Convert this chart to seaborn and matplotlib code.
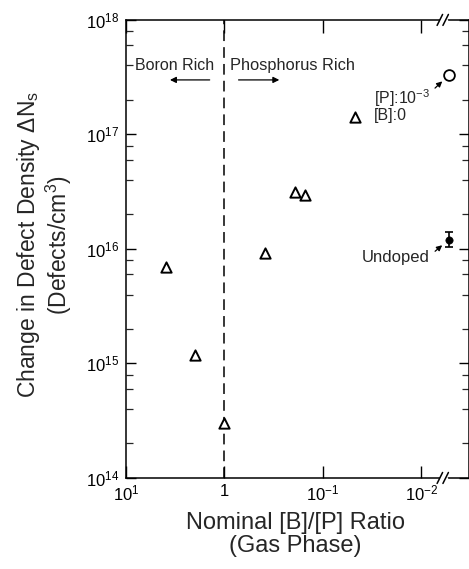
import matplotlib
matplotlib.use("Agg")
import matplotlib.pyplot as plt
import pandas as pd
import numpy as np
import seaborn as sns
from matplotlib.ticker import LogLocator, FixedLocator, FixedFormatter, NullLocator, NullFormatter

# Triangles: B/P doped films
ratio = [3.9, 1.98, 1.0, 0.39, 0.193, 0.153, 0.047]
delta_ns = [7.0e15, 1.19e15, 3.0e14, 9.2e15, 3.15e16, 2.96e16, 1.42e17]

# points plotted past the axis break (ratio undefined)
break_x = [0.0052]
p_only_y = [3.3e17]
undoped_y = [1.2e16]
undoped_lo = [1.04e16]
undoped_hi = [1.41e16]

xtick_vals = [10, 1, 0.1, 0.01]
xtick_labels = ["$10^{1}$", "1", "$10^{-1}$", "$10^{-2}$"]
ytick_vals = [1e14, 1e15, 1e16, 1e17, 1e18]
ytick_labels = ["$10^{14}$", "$10^{15}$", "$10^{16}$", "$10^{17}$", "$10^{18}$"]

sns.set_style("ticks")
plt.rcParams['font.family'] = ['Liberation Sans', 'DejaVu Sans']
plt.rcParams['mathtext.fontset'] = 'custom'
plt.rcParams['mathtext.rm'] = 'Liberation Sans'
plt.rcParams['mathtext.it'] = 'Liberation Sans:italic'
plt.rcParams['mathtext.bf'] = 'Liberation Sans:bold'

fig = plt.figure(figsize=(4.69, 5.69), dpi=100)
ax = fig.add_axes([0.2687, 0.16, 0.7313, 0.805])

df = pd.DataFrame({"ratio": ratio, "dns": delta_ns})
sns.scatterplot(data=df, x="ratio", y="dns", marker="^", s=55,
                facecolor="white", edgecolor="black", linewidth=1.4, ax=ax, zorder=3)
sns.scatterplot(x=break_x, y=p_only_y, marker="o", s=60,
                facecolor="white", edgecolor="black", linewidth=1.3, ax=ax, zorder=3)
sns.scatterplot(x=break_x, y=undoped_y, marker="o", s=28,
                color="black", edgecolor="black", ax=ax, zorder=3)
ax.errorbar(break_x, undoped_y,
            yerr=[[undoped_y[0] - undoped_lo[0]], [undoped_hi[0] - undoped_y[0]]],
            fmt="none", ecolor="black", elinewidth=1.2, capsize=3, capthick=1.2)

ax.set_xscale("log")
ax.set_yscale("log")
ax.set_xlim(10, 10 ** (1 - 343 / 98.4))
ax.set_ylim(1e14, 1e18)

ax.axvline(1, color="black", lw=1.1, ls=(0, (7, 4)), zorder=1)

ax.xaxis.set_major_locator(FixedLocator(xtick_vals))
ax.xaxis.set_major_formatter(FixedFormatter(xtick_labels))
ax.xaxis.set_minor_locator(NullLocator())
ax.yaxis.set_major_locator(FixedLocator(ytick_vals))
ax.yaxis.set_major_formatter(FixedFormatter(ytick_labels))
ax.yaxis.set_minor_locator(LogLocator(base=10, subs=(2, 4, 6, 8), numticks=20))
ax.yaxis.set_minor_formatter(NullFormatter())

ax.tick_params(axis="x", which="major", direction="in", length=9, width=1.0,
               top=True, bottom=True, labelsize=12, pad=4, colors="black")
ax.tick_params(axis="y", which="major", direction="in", length=7, width=1.0,
               left=True, right=True, labelsize=12, pad=5, colors="black")
ax.tick_params(axis="y", which="minor", direction="in", length=5, width=0.9,
               left=True, right=True)
for s in ax.spines.values():
    s.set_color("black")
    s.set_linewidth(1.1)

ax.set_xlabel("")
ax.set_ylabel("")
fig.text(0.629, 0.06, "Nominal [B]/[P] Ratio\n(Gas Phase)", ha="center", va="center",
         fontsize=17, linespacing=1.05)
fig.text(0.095, 0.57, "Change in Defect Density \u0394N$_\\mathrm{s}$\n(Defects/cm$^3$)",
         ha="center", va="center", rotation=90, fontsize=16.5, linespacing=1.1)

# axis break marks
for fy in (0.0, 1.0):
    ax.plot([0.917, 0.932], [fy, fy], transform=ax.transAxes, color="white",
            lw=2.5, clip_on=False, zorder=5)
    for fx in (0.915, 0.932):
        ax.plot([fx - 0.008, fx + 0.008], [fy - 0.012, fy + 0.012], transform=ax.transAxes,
                color="black", lw=1.1, clip_on=False, zorder=6)

# region labels
ax.text(0.026, 0.9, "Boron Rich", transform=ax.transAxes, ha="left", va="center", fontsize=11.5)
ax.text(0.304, 0.9, "Phosphorus Rich", transform=ax.transAxes, ha="left", va="center", fontsize=11.8)
ax.annotate("", xy=(0.12, 0.869), xytext=(0.252, 0.869), xycoords="axes fraction",
            arrowprops=dict(arrowstyle="-|>", color="black", lw=0.9, mutation_scale=9))
ax.annotate("", xy=(0.455, 0.869), xytext=(0.32, 0.869), xycoords="axes fraction",
            arrowprops=dict(arrowstyle="-|>", color="black", lw=0.9, mutation_scale=9))

ax.text(0.722, 0.83, "[P]:10$^{-3}$", transform=ax.transAxes, ha="left", va="center", fontsize=11.5)
ax.text(0.722, 0.792, "[B]:0", transform=ax.transAxes, ha="left", va="center", fontsize=11.5)
ax.annotate("", xy=(0.928, 0.87), xytext=(0.895, 0.847), xycoords="axes fraction",
            arrowprops=dict(arrowstyle="-|>", color="black", lw=0.9, mutation_scale=8))
ax.text(0.886, 0.482, "Undoped", transform=ax.transAxes, ha="right", va="center", fontsize=12)
ax.annotate("", xy=(0.928, 0.512), xytext=(0.895, 0.491), xycoords="axes fraction",
            arrowprops=dict(arrowstyle="-|>", color="black", lw=0.9, mutation_scale=8))

fig.savefig("out.png", dpi=100)
